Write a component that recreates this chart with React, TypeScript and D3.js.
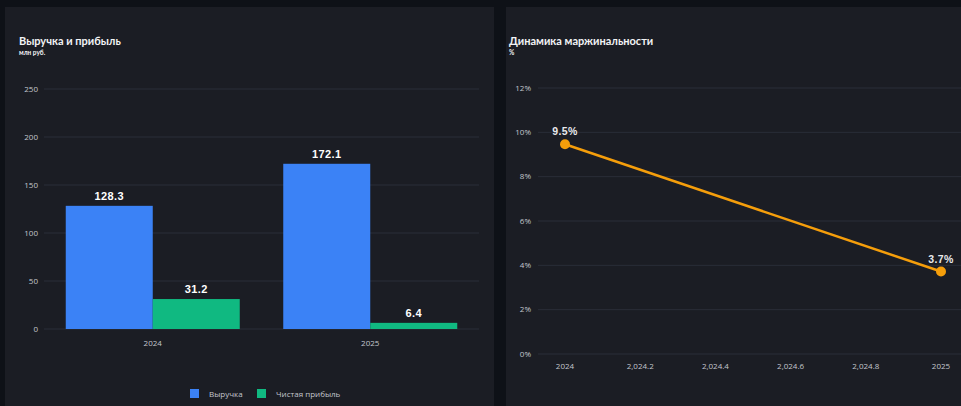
import React from 'react';
import * as d3 from 'd3';

// data
const years = ['2024', '2025'];
const seriesNames = ['Выручка', 'Чистая прибыль'];
const revenue = [128.3, 172.1];
const netProfit = [31.2, 6.4];
const marginYears = [2024, 2025];
const marginValues = [9.46, 3.72];
const barTicks = [0, 50, 100, 150, 200, 250];
const marginTicks = [0, 2, 4, 6, 8, 10, 12];
const marginXTicks = [2024, 2024.2, 2024.4, 2024.6, 2024.8, 2025];
const marginXLabels = ['2024', '2,024.2', '2,024.4', '2,024.6', '2,024.8', '2025'];

const W = 961;
const H = 406;
const PAGE_BG = '#0e1117';
const PANEL_BG = '#1b1d24';
const GRID = '#2a2e38';
const TICK = '#c3c6cd';
const COLORS = ['#3b82f6', '#10b981'];
const ORANGE = '#f59e0b';
const FONT = '"Open Sans", "Noto Sans", sans-serif';
const TITLE_FONT = 'Lato, "Open Sans", sans-serif';
const LABEL_FONT = '"Liberation Sans", Arial, sans-serif';

const Title = ({ x, title, sub }: { x: number; title: string; sub: string }) => (
  <g>
    <text x={x} y={45} fill="#f2f3f5" fontFamily={TITLE_FONT} fontWeight={700} fontSize={11}>
      {title}
    </text>
    <text x={x} y={55} fill="#f2f3f5" fontFamily={TITLE_FONT} fontWeight={700} fontSize={6.5}>
      {sub}
    </text>
  </g>
);

const BarChart = () => {
  const x = d3.scaleBand().domain(years).range([44, 479]).paddingInner(0.2).paddingOuter(0.1);
  const xs = d3.scaleBand().domain(seriesNames).range([0, x.bandwidth()]);
  const y = d3.scaleLinear().domain([0, 250]).range([329, 89]);
  const series = [revenue, netProfit];

  return (
    <g>
      <rect x={5} y={7} width={489} height={410} fill={PANEL_BG} />
      <Title x={19} title="Выручка и прибыль" sub="млн руб." />
      {barTicks.map(t => (
        <g key={t}>
          <line x1={44} x2={479} y1={y(t)} y2={y(t)} stroke={GRID} strokeWidth={1} />
          <text x={38} y={y(t)} dy="0.35em" textAnchor="end" fill={TICK} fontFamily={FONT} fontSize={8}>
            {t}
          </text>
        </g>
      ))}
      {years.map((yr, i) => (
        <g key={yr} transform={`translate(${x(yr)},0)`}>
          {seriesNames.map((s, j) => {
            const v = series[j][i];
            return (
              <g key={s}>
                <rect x={xs(s)} y={y(v)} width={xs.bandwidth()} height={y(0) - y(v)} fill={COLORS[j]} />
                <text
                  x={(xs(s) as number) + xs.bandwidth() / 2}
                  y={y(v) - 6}
                  textAnchor="middle"
                  fill="#ffffff"
                  fontFamily={LABEL_FONT}
                  fontWeight={700}
                  fontSize={11}
                  letterSpacing={0.4}
                >
                  {v.toFixed(1)}
                </text>
              </g>
            );
          })}
          <text
            x={x.bandwidth() / 2}
            y={346}
            textAnchor="middle"
            fill={TICK}
            fontFamily={FONT}
            fontSize={8}
          >
            {yr}
          </text>
        </g>
      ))}
      <g transform="translate(190,389)">
        {seriesNames.map((s, j) => (
          <g key={s} transform={`translate(${j * 67},0)`}>
            <rect width={9} height={9} fill={COLORS[j]} />
            <text x={19} y={7.5} fill={TICK} fontFamily={FONT} fontSize={8}>
              {s}
            </text>
          </g>
        ))}
      </g>
    </g>
  );
};

const MarginChart = () => {
  const x = d3.scaleLinear().domain([2024, 2025]).range([565, 941]);
  const y = d3.scaleLinear().domain([0, 12]).range([354, 88]);
  const line = d3
    .line<number>()
    .x((_, i) => x(marginYears[i]))
    .y(d => y(d));

  return (
    <g>
      <rect x={506} y={7} width={470} height={410} fill={PANEL_BG} />
      <Title x={509} title="Динамика маржинальности" sub="%" />
      {marginTicks.map(t => (
        <g key={t}>
          <line x1={538} x2={W} y1={y(t)} y2={y(t)} stroke={GRID} strokeWidth={1} />
          <text x={531} y={y(t)} dy="0.35em" textAnchor="end" fill={TICK} fontFamily={FONT} fontSize={8}>
            {`${t}%`}
          </text>
        </g>
      ))}
      {marginXTicks.map((t, i) => (
        <text key={t} x={x(t)} y={369} textAnchor="middle" fill={TICK} fontFamily={FONT} fontSize={8}>
          {marginXLabels[i]}
        </text>
      ))}
      <path d={line(marginValues) || ''} fill="none" stroke={ORANGE} strokeWidth={2.5} />
      {marginValues.map((v, i) => (
        <g key={i}>
          <circle cx={x(marginYears[i])} cy={y(v)} r={5} fill={ORANGE} />
          <text
            x={x(marginYears[i])}
            y={y(v) - 9}
            textAnchor="middle"
            fill="#e8e9ec"
            fontFamily={LABEL_FONT}
            fontWeight={700}
            fontSize={10.5}
            letterSpacing={0.4}
          >
            {`${v.toFixed(1)}%`}
          </text>
        </g>
      ))}
    </g>
  );
};

const App = () => (
  <svg
    width={W}
    height={H}
    style={{ position: 'fixed', left: 0, top: 0, display: 'block' }}
  >
    <rect width={W} height={H} fill={PAGE_BG} />
    <BarChart />
    <MarginChart />
  </svg>
);

export default App;
